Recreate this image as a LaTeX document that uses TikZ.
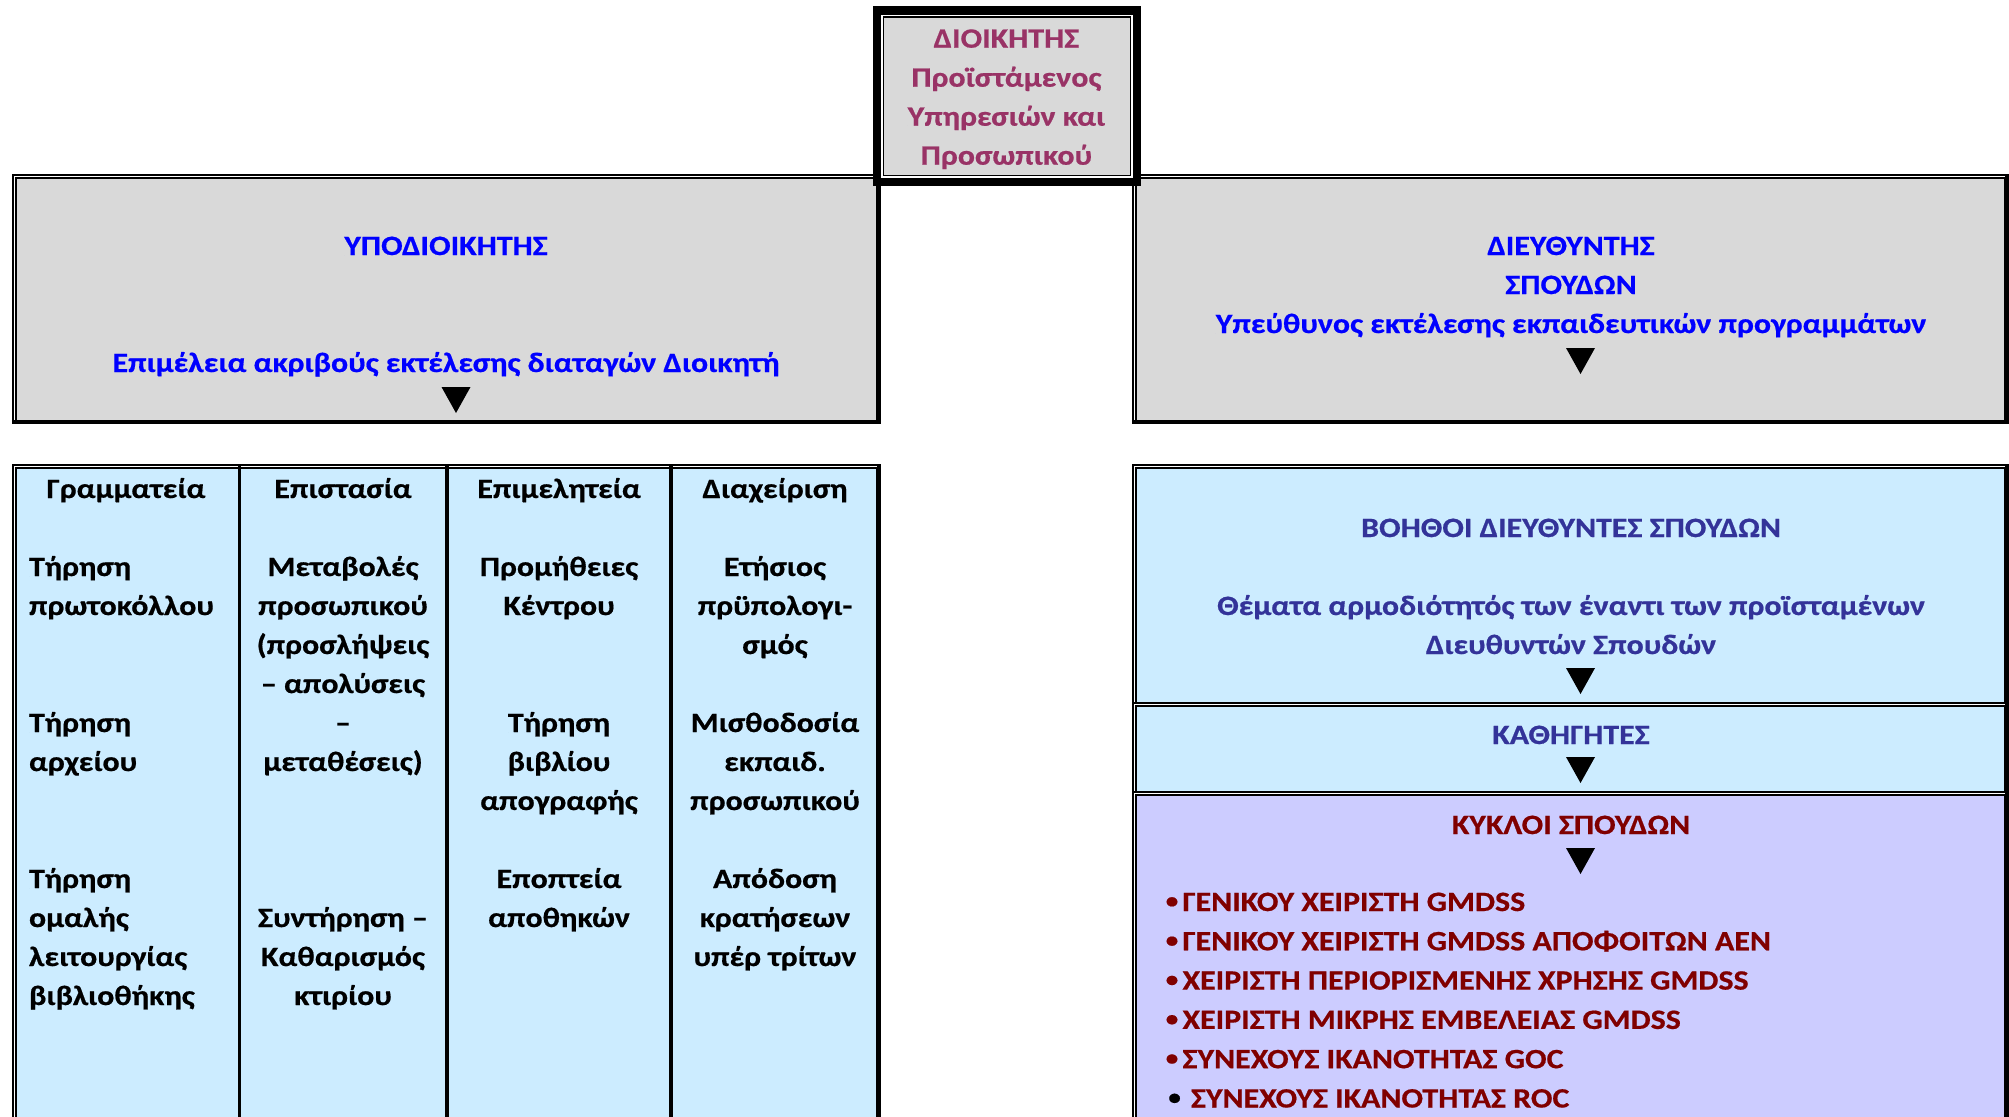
\documentclass[tikz,border=0pt]{standalone}
\usepackage{fontspec}
\setmainfont{Carlito}[FakeStretch=1.14, BoldFeatures={FakeBold=0.6}]
\definecolor{boxgray}{RGB}{217,217,217}
\definecolor{boxblue}{RGB}{204,236,255}
\definecolor{boxpurple}{RGB}{204,204,255}
\definecolor{topc}{RGB}{153,51,102}
\definecolor{navyc}{RGB}{51,51,153}
\definecolor{maroonc}{RGB}{128,0,0}
\definecolor{bluec}{RGB}{0,0,255}
\begin{document}
\begin{tikzpicture}[x=1pt,y=-1pt,
  txt/.style={font=\fontsize{28}{39}\selectfont\bfseries, inner sep=0pt, outer sep=0pt},
  one/.style={txt, anchor=base},
  multi/.style={txt, anchor=north, align=center},
  multil/.style={txt, anchor=north west, align=left},
  boxn/.style={inner sep=0pt, outer sep=0pt, draw=black, line width=1.8pt, double=white, double distance=1pt},
  thickedge/.style={line width=4pt, line cap=rect},
  downtri/.pic={\fill[black] (-14.5,0) -- (14.5,0) -- (0,26) -- cycle;}
]
\useasboundingbox (0,0) rectangle (2009,1116);
\fill[white] (0,0) rectangle (2009,1116);

% ---- left gray box (Υποδιοικητής)
\node[boxn, fill=boxgray, minimum width=864.4pt, minimum height=245.7pt] (lg) at (446.5,299.15) {};
\draw[thickedge] (lg.north east) -- (lg.south east) -- (lg.south west);
% ---- right gray box (Διευθυντής)
\node[boxn, fill=boxgray, minimum width=872pt, minimum height=245.7pt] (rg) at (1570.5,299.15) {};
\draw[thickedge] (rg.north east) -- (rg.south east) -- (rg.south west);

% ---- top box (Διοικητής)
\node[inner sep=0pt, outer sep=0pt, draw=black, fill=white, line width=8.5pt, minimum width=260pt, minimum height=171.7pt] (top) at (1006.9,96.35) {};
\node[inner sep=0pt, outer sep=0pt, draw=black, fill=boxgray, line width=1.4pt, minimum width=247pt, minimum height=158.5pt] (topin) at (1006.9,96.45) {};
\node[multi, text=topc] (toptxt) at (1006.4,20.4) {\strut ΔΙΟΙΚΗΤΗΣ\\Προϊστάμενος\\Υπηρεσιών και\\Προσωπικού};

% ---- left gray texts
\node[one, text=bluec] (subt) at (446,255) {ΥΠΟΔΙΟΙΚΗΤΗΣ};
\node[one, text=bluec] (subd) at (446,372) {Επιμέλεια ακριβούς εκτέλεσης διαταγών Διοικητή};
\pic at (456,387) {downtri};

% ---- right gray texts
\node[multi, text=bluec] (dirt) at (1571,227.7) {\strut ΔΙΕΥΘΥΝΤΗΣ\\ΣΠΟΥΔΩΝ\\Υπεύθυνος εκτέλεσης εκπαιδευτικών προγραμμάτων};
\pic at (1580.5,348) {downtri};

% ---- left table
\node[boxn, fill=boxblue, minimum width=864.4pt, minimum height=663.8pt] (tab) at (446.5,798.1) {};
\draw[thickedge] (tab.north east) -- (tab.south east);
\draw[line width=3.5pt] (239.5,466.2) -- (239.5,1130);
\draw[line width=3.5pt] (447,466.2) -- (447,1130);
\draw[line width=3.5pt] (671,466.2) -- (671,1130);

\node[one] (h1) at (126,498) {Γραμματεία};
\node[one] (h2) at (343,498) {Επιστασία};
\node[one] (h3) at (559,498) {Επιμελητεία};
\node[one] (h4) at (775,498) {Διαχείριση};

\node[multil] (c1a) at (29,548.7) {\strut Τήρηση\\πρωτοκόλλου};
\node[multil] (c1b) at (29,704.7) {\strut Τήρηση\\αρχείου};
\node[multil] (c1c) at (29,860.7) {\strut Τήρηση\\ομαλής\\λειτουργίας\\βιβλιοθήκης};

\node[multi] (c2a) at (343,548.7) {\strut Μεταβολές\\προσωπικού\\(προσλήψεις\\– απολύσεις\\–\\μεταθέσεις)};
\node[multi] (c2b) at (343,899.7) {\strut Συντήρηση –\\Καθαρισμός\\κτιρίου};

\node[multi] (c3a) at (559,548.7) {\strut Προμήθειες\\Κέντρου};
\node[multi] (c3b) at (559,704.7) {\strut Τήρηση\\βιβλίου\\απογραφής};
\node[multi] (c3c) at (559,860.7) {\strut Εποπτεία\\αποθηκών};

\node[multi] (c4a) at (775,548.7) {\strut Ετήσιος\\πρϋπολογι-\\σμός};
\node[multi] (c4b) at (775,704.7) {\strut Μισθοδοσία\\εκπαιδ.\\προσωπικού};
\node[multi] (c4c) at (775,860.7) {\strut Απόδοση\\κρατήσεων\\υπέρ τρίτων};

% ---- right column boxes
\node[boxn, fill=boxblue, minimum width=872pt, minimum height=237.7pt] (bd) at (1570.5,585.35) {};
\draw[thickedge] (bd.north east) -- (bd.south east);
\node[boxn, fill=boxblue, minimum width=872pt, minimum height=89.5pt] (kth) at (1570.5,748.95) {};
\draw[thickedge] (kth.north east) -- (kth.south east);
\node[boxn, fill=boxpurple, minimum width=872pt, minimum height=336.3pt] (kyk) at (1570.5,961.85) {};
\draw[thickedge] (kyk.north east) -- (kyk.south east);

\node[one, text=navyc] (bdt) at (1571,537) {ΒΟΗΘΟΙ ΔΙΕΥΘΥΝΤΕΣ ΣΠΟΥΔΩΝ};
\node[multi, text=navyc] (bdd) at (1571,587.7) {\strut Θέματα αρμοδιότητός των έναντι των προϊσταμένων\\Διευθυντών Σπουδών};
\pic at (1580.5,668) {downtri};
\node[one, text=navyc] (ktht) at (1571,744) {ΚΑΘΗΓΗΤΕΣ};
\pic at (1580.5,757) {downtri};
\node[one, text=maroonc] (kykt) at (1571,834) {ΚΥΚΛΟΙ ΣΠΟΥΔΩΝ};
\pic at (1580.5,848) {downtri};

\foreach \i/\t in {0/ΓΕΝΙΚΟΥ ΧΕΙΡΙΣΤΗ GMDSS,
                   1/ΓΕΝΙΚΟΥ ΧΕΙΡΙΣΤΗ GMDSS ΑΠΟΦΟΙΤΩΝ ΑΕΝ,
                   2/ΧΕΙΡΙΣΤΗ ΠΕΡΙΟΡΙΣΜΕΝΗΣ ΧΡΗΣΗΣ GMDSS,
                   3/ΧΕΙΡΙΣΤΗ ΜΙΚΡΗΣ ΕΜΒΕΛΕΙΑΣ GMDSS,
                   4/ΣΥΝΕΧΟΥΣ ΙΚΑΝΌΤΗΤΑΣ GOC}{
  \node[one, text=maroonc, font=\fontsize{22}{39}\selectfont\bfseries] (b\i) at (1172,908+39.3*\i) {•};
  \node[txt, anchor=base west, text=maroonc] (it\i) at (1182.5,911+39.3*\i) {\t};
}
\node[one, font=\fontsize{22}{39}\selectfont\bfseries] (b5) at (1174.6,1104.5) {•};
\node[txt, anchor=base west, text=maroonc] (it5) at (1191,1107.5) {ΣΥΝΕΧΟΥΣ ΙΚΑΝΟΤΗΤΑΣ ROC};
\end{tikzpicture}
\end{document}
